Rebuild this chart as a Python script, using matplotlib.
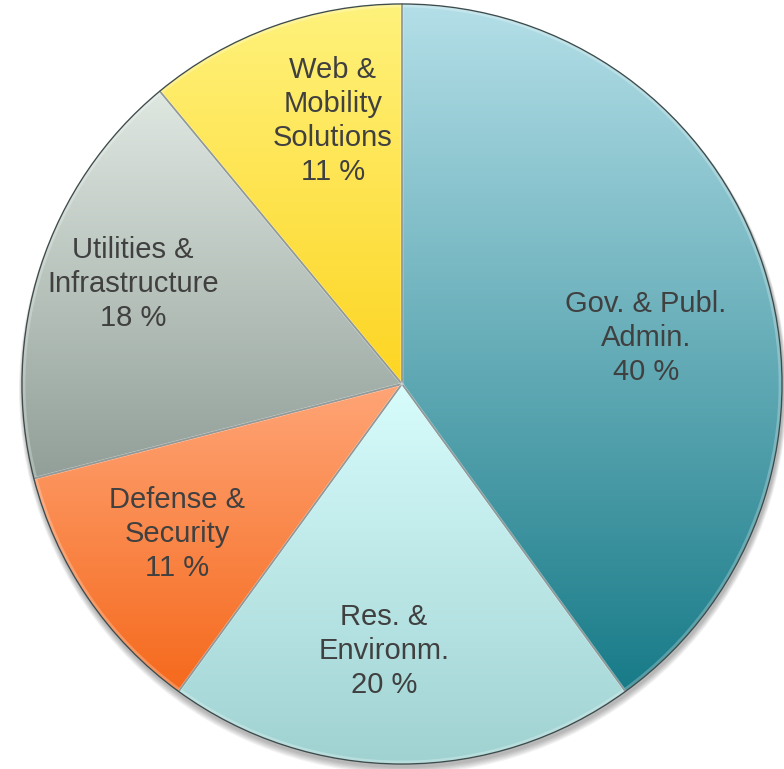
import numpy as np
import matplotlib.pyplot as plt
from matplotlib.patches import Wedge
from matplotlib.colors import LinearSegmentedColormap

# data
labels = ['Gov. & Publ.\nAdmin.', 'Res. &\nEnvironm.', 'Defense &\nSecurity',
          'Utilities &\nInfrastructure', 'Web &\nMobility\nSolutions']
shares = [40, 20, 11, 18, 11]
# gradient colours per slice (top, bottom)
tops = ['#b4dfe8', '#d8fcfc', '#ffa577', '#dfe7e1', '#fff27c']
bottoms = ['#187b88', '#a0d2d2', '#f5691c', '#919f98', '#fdd522']
# label centres in pixels (x, y from top)
label_pos = [(646, 338), (384, 651), (177, 534), (133, 284), (333, 121)]

W, H = 784, 769
fig = plt.figure(figsize=(W / 100, H / 100), dpi=100)
ax = fig.add_axes([0, 0, 1, 1])

cx, cy, r = 402, H - 384, 380

# soft shadow under the pie
for i in range(6):
    sh = plt.Circle((cx + 1, cy - 3 - i * 0.6), r + 1 + i * 0.6, color='#000000',
                    alpha=0.05, lw=0, zorder=0)
    ax.add_patch(sh)

wedges, _ = ax.pie(shares, startangle=90, counterclock=False,
                   center=(cx, cy), radius=r, frame=True,
                   wedgeprops=dict(edgecolor='#3e4c4c', linewidth=1.0))
ax.set_xlim(0, W)
ax.set_ylim(0, H)
ax.set_aspect('equal')
ax.axis('off')

for w, c1, c2 in zip(wedges, tops, bottoms):
    w.set_facecolor('none')
    w.set_zorder(3)
    ext = w.get_path().get_extents(w.get_patch_transform())
    cmap = LinearSegmentedColormap.from_list('g', [c2, c1])
    grad = np.linspace(0, 1, 256).reshape(-1, 1)
    im = ax.imshow(grad, cmap=cmap, origin='lower', aspect='auto',
                   extent=(ext.x0, ext.x1, ext.y0, ext.y1), zorder=2,
                   interpolation='bilinear')
    im.set_clip_path(w)
    # inner highlight for a slight bevel look
    ax.add_patch(Wedge((cx, cy), r - 2, w.theta1, w.theta2, facecolor='none',
                       edgecolor='white', alpha=0.25, lw=2, zorder=3))

ax.set_xlim(0, W)
ax.set_ylim(0, H)

for lab, s, (px, py) in zip(labels, shares, label_pos):
    ax.text(px, H - py, f'{lab}\n{s} %', ha='center', va='center',
            fontsize=21, color='#404040', family='Liberation Sans',
            linespacing=1.28, zorder=5)

fig.savefig('out.png', dpi=100)
